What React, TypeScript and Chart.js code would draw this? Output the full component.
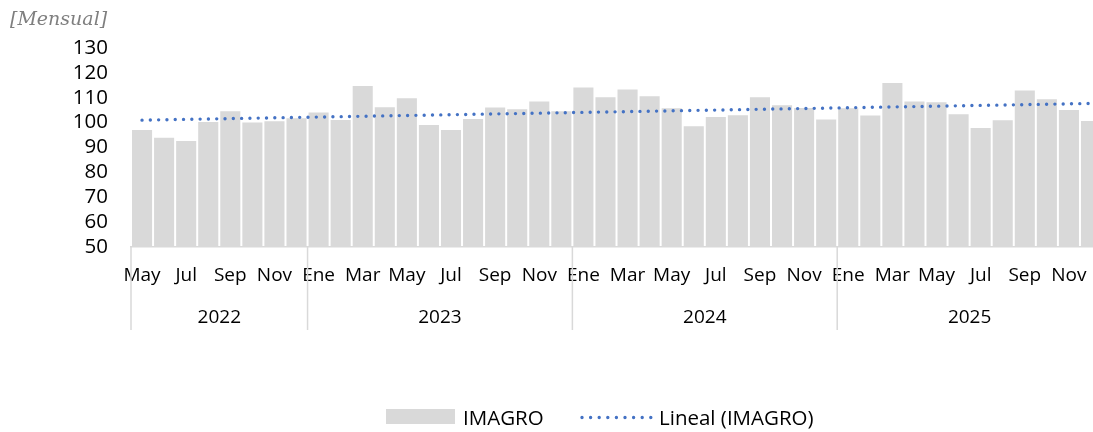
import React, { useEffect, useRef } from 'react';
import { Chart, registerables } from 'chart.js';

Chart.register(...registerables);

// ---- data ----
const months2022 = ['May', 'Jun', 'Jul', 'Ago', 'Sep', 'Oct', 'Nov', 'Dic'];
const monthsFull = ['Ene', 'Feb', 'Mar', 'Abr', 'May', 'Jun', 'Jul', 'Ago', 'Sep', 'Oct', 'Nov', 'Dic'];
const yearLabels = ['2022', '2023', '2024', '2025'];

const values2022 = [97.0, 93.9, 92.6, 100.3, 104.6, 100.1, 100.6, 101.8];
const values2023 = [104.1, 101.1, 114.7, 106.2, 109.8, 99.0, 97.0, 101.5, 106.1, 105.4, 108.5, 104.6];
const values2024 = [114.1, 110.2, 113.3, 110.6, 105.8, 98.5, 102.3, 103.0, 110.2, 107.0, 105.9, 101.3];
const values2025 = [105.8, 102.9, 115.9, 108.5, 108.2, 103.4, 97.8, 101.0, 112.9, 109.4, 105.1, 100.7];

// linear trend ("Lineal (IMAGRO)") as read at its two ends
const trendStart = 101.0;
const trendEnd = 107.7;

const yMin = 50;
const yMax = 130;
const yStep = 10;

const seriesName = 'IMAGRO';
const trendName = 'Lineal (IMAGRO)';
const titleText = '[Mensual]';

// ---- derived ----
const yearMonths = [months2022, monthsFull, monthsFull, monthsFull];
const yearValues = [values2022, values2023, values2024, values2025];
const categories: string[] = yearMonths.flat();
const values: number[] = yearValues.flat();
const groupSizes = yearMonths.map((m) => m.length);
const trendData: (number | null)[] = categories.map((_, i) =>
  i === 0 ? trendStart : i === categories.length - 1 ? trendEnd : null
);

const FONT = '"Open Sans", "Liberation Sans", sans-serif';
const BAR = '#d9d9d9';
const BLUE = '#4472C4';

const decorPlugin = {
  id: 'decor',
  afterDraw(chart: any) {
    const { ctx, chartArea } = chart;
    const xs = chart.scales.x;
    const n = categories.length;
    const catW = (chartArea.right - chartArea.left) / n;
    ctx.save();

    // title
    ctx.fillStyle = '#7f7f7f';
    ctx.font = 'italic 19px "DejaVu Serif", serif';
    ctx.textAlign = 'left';
    ctx.textBaseline = 'alphabetic';
    ctx.fillText(titleText, 10, 25);

    // year groups
    let start = 0;
    ctx.strokeStyle = BAR;
    ctx.lineWidth = 1.5;
    ctx.fillStyle = '#000';
    ctx.font = `19px ${FONT}`;
    ctx.textAlign = 'center';
    groupSizes.forEach((size, gi) => {
      const left = xs.getPixelForValue(start) - catW / 2;
      const right = xs.getPixelForValue(start + size - 1) + catW / 2;
      ctx.beginPath();
      ctx.moveTo(left, chartArea.bottom);
      ctx.lineTo(left, chartArea.bottom + 83);
      ctx.stroke();
      ctx.fillText(yearLabels[gi], (left + right) / 2, chartArea.bottom + 75.5);
      start += size;
    });

    // legend
    ctx.fillStyle = BAR;
    ctx.fillRect(386, 409, 69, 15);
    ctx.fillStyle = '#000';
    ctx.textAlign = 'left';
    ctx.font = `20.5px ${FONT}`;
    ctx.fillText(seriesName, 463, 424.5);
    ctx.strokeStyle = BLUE;
    ctx.lineWidth = 3.4;
    ctx.lineCap = 'round';
    ctx.setLineDash([0, 8.6]);
    ctx.beginPath();
    ctx.moveTo(582, 417.5);
    ctx.lineTo(651, 417.5);
    ctx.stroke();
    ctx.setLineDash([]);
    ctx.fillText(trendName, 659, 424.5);

    ctx.restore();
  },
};

export default function App() {
  const ref = useRef<HTMLCanvasElement | null>(null);

  useEffect(() => {
    if (!ref.current) return;
    const chart = new Chart(ref.current, {
      type: 'bar',
      data: {
        labels: categories,
        datasets: [
          {
            type: 'line',
            label: trendName,
            data: trendData,
            borderColor: BLUE,
            borderWidth: 3.4,
            borderDash: [0, 8.3],
            borderCapStyle: 'round',
            pointRadius: 0,
            spanGaps: true,
            fill: false,
            order: 1,
          } as any,
          {
            type: 'bar',
            label: seriesName,
            data: values,
            backgroundColor: BAR,
            barPercentage: 0.91,
            categoryPercentage: 1,
            order: 2,
          },
        ],
      },
      options: {
        responsive: false,
        animation: false,
        layout: { padding: { top: 48, left: 0, right: 0, bottom: 0 } },
        plugins: {
          legend: { display: false },
          tooltip: { enabled: false },
        },
        scales: {
          x: {
            grid: { display: false, drawTicks: false },
            border: { display: true, color: BAR, width: 1.5 },
            ticks: {
              autoSkip: false,
              maxRotation: 0,
              minRotation: 0,
              padding: 17,
              color: '#000',
              font: { family: FONT, size: 19 },
              callback: (_v: any, i: number) => (i % 2 === 0 ? categories[i] : ''),
            },
            afterFit: (s: any) => {
              s.height = 185;
            },
          },
          y: {
            min: yMin,
            max: yMax,
            grid: { display: false, drawTicks: false },
            border: { display: false },
            ticks: {
              stepSize: yStep,
              autoSkip: false,
              padding: 23,
              color: '#000',
              font: { family: FONT, size: 20.5 },
            },
            afterFit: (s: any) => {
              s.width = 131;
            },
          },
        },
      } as any,
      plugins: [decorPlugin],
    });
    return () => chart.destroy();
  }, []);

  return (
    <div
      style={{
        position: 'fixed',
        left: 0,
        top: 0,
        width: 1093,
        height: 432,
        overflow: 'hidden',
        background: '#fff',
      }}
    >
      <canvas ref={ref} width={1108} height={432} style={{ display: 'block' }} />
    </div>
  );
}
